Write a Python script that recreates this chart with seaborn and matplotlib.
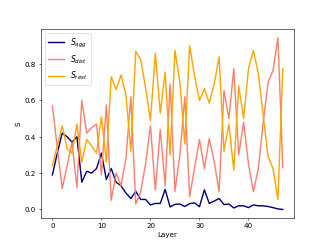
import numpy as np
import pandas as pd
import matplotlib
matplotlib.use('Agg')
import matplotlib.pyplot as plt
import seaborn as sns

# 每层的 S 值
layers = list(range(48))

s_agg = [0.19, 0.31, 0.42, 0.40, 0.37, 0.40, 0.15, 0.21, 0.20, 0.225,
         0.31, 0.165, 0.225, 0.15, 0.13, 0.09, 0.06, 0.10, 0.055, 0.055,
         0.025, 0.033, 0.033, 0.11, 0.014, 0.028, 0.03, 0.016, 0.032, 0.036,
         0.015, 0.108, 0.033, 0.046, 0.06, 0.027, 0.03, 0.008, 0.02, 0.02,
         0.01, 0.025, 0.02, 0.02, 0.016, 0.01, 0.003, 0.0]

s_dist = [0.57, 0.34, 0.115, 0.24, 0.37, 0.12, 0.60, 0.42, 0.45, 0.47,
          0.19, 0.575, 0.05, 0.20, 0.13, 0.28, 0.62, 0.03, 0.095, 0.25,
          0.46, 0.106, 0.44, 0.13, 0.69, 0.10, 0.30, 0.62, 0.07, 0.23,
          0.385, 0.225, 0.39, 0.265, 0.097, 0.655, 0.50, 0.775, 0.30, 0.48,
          0.25, 0.097, 0.225, 0.48, 0.70, 0.765, 0.945, 0.23]

s_rest = [0.24, 0.35, 0.46, 0.335, 0.31, 0.47, 0.26, 0.385, 0.35, 0.31,
          0.51, 0.26, 0.73, 0.66, 0.74, 0.63, 0.32, 0.87, 0.825, 0.67,
          0.49, 0.86, 0.53, 0.756, 0.30, 0.875, 0.70, 0.36, 0.90, 0.735,
          0.60, 0.665, 0.585, 0.69, 0.84, 0.32, 0.47, 0.216, 0.68, 0.50,
          0.775, 0.875, 0.75, 0.52, 0.29, 0.225, 0.055, 0.775]

names = [r'$S_{agg}$', r'$S_{dist}$', r'$S_{rest}$']
colors = ['navy', 'salmon', 'orange']

# 整理成长表
df = pd.DataFrame({
    'Layer': layers * 3,
    'S': s_agg + s_dist + s_rest,
    'kind': [names[0]] * 48 + [names[1]] * 48 + [names[2]] * 48,
})

fig, ax = plt.subplots(figsize=(6.4, 4.8), dpi=51.1)
sns.lineplot(data=df, x='Layer', y='S', hue='kind', palette=dict(zip(names, colors)),
             linewidth=2, ax=ax)
ax.legend(loc='upper left', title=None, fontsize=11)
ax.set_xlabel('Layer')
ax.set_ylabel('S')
plt.savefig('out.png', dpi=51.1)
